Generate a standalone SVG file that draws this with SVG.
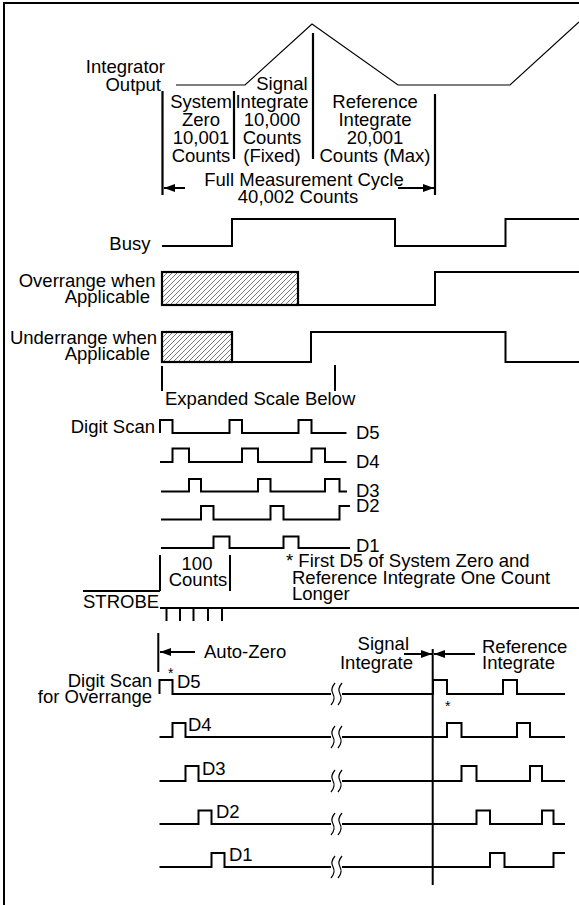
<svg xmlns="http://www.w3.org/2000/svg" width="579" height="905" viewBox="0 0 579 905">
<style>
.t{font-family:"Liberation Sans",Arial,Helvetica,sans-serif;font-size:18.5px;fill:#000}
.m{text-anchor:middle}
.e{text-anchor:end}
.w{fill:none;stroke:#000;stroke-width:2}
.thin{fill:none;stroke:#000;stroke-width:1.2}
.bar{fill:none;stroke:#000;stroke-width:2.2}
.ast{font-family:"Liberation Sans",Arial,sans-serif;font-size:14px}
</style>
<defs>
<marker id="ah" markerUnits="userSpaceOnUse" markerWidth="11" markerHeight="8" refX="11" refY="4" orient="auto"><path d="M0,0 L11,4 L0,8 z" fill="#000"/></marker>
<pattern id="hatch" patternUnits="userSpaceOnUse" width="5" height="5"><path d="M-1,1 L1,-1 M0,5 L5,0 M4,6 L6,4" stroke="#555" stroke-width="0.8"/></pattern>
<g id="brk" fill="none" stroke="#000" stroke-width="1.2"><path d="M3,-11 Q-2,-5 1,0 Q4,5 -1,11"/><path d="M10,-11 Q5,-5 8,0 Q11,5 6,11"/></g>
</defs>
<rect width="579" height="905" fill="#fff"/>
<g id="frame"><path class="w" d="M4,905 V3 H579" stroke-width="2.5"/></g>

<g id="integrator">
<polyline class="thin" points="176,85 245,85 312,24 398,85 510,85 579,22"/>
<text class="t e" x="165" y="73">Integrator</text>
<text class="t e" x="161" y="91">Output</text>
</g>

<g id="phases">
<path class="bar" d="M162.5,91 V195 M234,91 V159 M313,33 V159 M435,94 V195"/>
<text class="t m" x="282" y="90">Signal</text>
<text class="t m" x="201" y="108">System</text>
<text class="t m" x="201" y="126">Zero</text>
<text class="t m" x="201" y="144">10,001</text>
<text class="t m" x="201" y="162">Counts</text>
<text class="t m" x="272" y="108">Integrate</text>
<text class="t m" x="272" y="126">10,000</text>
<text class="t m" x="272" y="144">Counts</text>
<text class="t m" x="272" y="162">(Fixed)</text>
<text class="t m" x="375" y="108">Reference</text>
<text class="t m" x="375" y="126">Integrate</text>
<text class="t m" x="375" y="144">20,001</text>
<text class="t m" x="375" y="162">Counts (Max)</text>
<text class="t m" x="304" y="186">Full Measurement Cycle</text>
<text class="t m" x="298" y="203">40,002 Counts</text>
</g>

<g id="busy">
<text class="t e" x="150.5" y="250">Busy</text>
<path class="w" d="M162,246 H232 V219 H395 V246 H505.5 V219 H579"/>
</g>

<g id="overrange">
<text class="t e" x="155.5" y="287">Overrange when</text>
<text class="t e" x="150" y="303">Applicable</text>
<rect x="162" y="272" width="136" height="33" fill="url(#hatch)" stroke="#000" stroke-width="2.2"/>
<path class="w" d="M298,305 H435 V272 H579"/>
</g>

<g id="underrange">
<text class="t e" x="157" y="344">Underrange when</text>
<text class="t e" x="150" y="360">Applicable</text>
<rect x="162" y="332" width="70" height="30" fill="url(#hatch)" stroke="#000" stroke-width="2.2"/>
<path class="w" d="M232,362 H311 V332 H505.5 V362 H579"/>
</g>

<g id="expanded-scale">
<path class="w" stroke-width="1.6" d="M162,366 V391 M335,365 V391"/>
<text class="t" x="165" y="405">Expanded Scale Below</text>
</g>

<g id="digit-scan">
<text class="t e" x="155" y="433">Digit Scan</text>
<path class="w" d="M160,433 V420 H172.5 V433 H229.5 V420 H242 V433 H298.5 V420 H311.5 V433 H346.5"/>
<path class="w" d="M160,462 H172.5 V448.5 H189 V462 H242 V448.5 H258 V462 H311.5 V448.5 H325 V462 H346.5"/>
<path class="w" d="M161,491.5 H189 V479 H201 V491.5 H258 V479 H270.5 V491.5 H325 V479 H339.5 V491.5 H347"/>
<path class="w" d="M161,519.5 H201 V506 H213.5 V519.5 H270.5 V506 H283.5 V519.5 H339.5 V506 H350"/>
<path class="w" d="M161,548 H213.5 V536.5 H229.5 V548 H283.5 V536.5 H298.5 V548 H350"/>
<text class="t" x="356" y="439">D5</text>
<text class="t" x="356" y="468">D4</text>
<text class="t" x="356" y="497">D3</text>
<text class="t" x="356" y="512">D2</text>
<text class="t" x="356" y="552">D1</text>
</g>

<g id="counts-100">
<path class="w" d="M160,555 V591 M230,555 V591"/>
<text class="t m" x="197" y="570">100</text>
<text class="t m" x="198" y="586">Counts</text>
</g>

<g id="note">
<text class="t" x="286" y="567">* First D5 of System Zero and</text>
<text class="t" x="292" y="584">Reference Integrate One Count</text>
<text class="t" x="292" y="600">Longer</text>
</g>

<g id="strobe">
<path class="w" d="M83,591 H160"/>
<text class="t" x="83" y="608">STROBE</text>
<path class="w" d="M160,608 H579 M166.5,608 V621 M180,608 V621 M193.5,608 V621 M208,608 V621 M222,608 V621"/>
</g>

<g id="phase-labels">
<path class="w" d="M158.3,633 V672 M432.7,649 V885"/>
<text class="t" x="204" y="658">Auto-Zero</text>
<text class="t e" x="409" y="650">Signal</text>
<text class="t e" x="413" y="669">Integrate</text>
<text class="t" x="482" y="653">Reference</text>
<text class="t" x="482" y="669">Integrate</text>
</g>

<g id="overrange-scan">
<text class="t e" x="152" y="687">Digit Scan</text>
<text class="t e" x="152" y="703">for Overrange</text>
<text class="ast" x="168" y="678">*</text>
<text class="ast" x="445" y="711">*</text>
<path class="w" d="M159.5,694 V680 H172.5 V694 H331 M342,694 H433 V680 H447 V694 H503 V680 H517 V694 H565"/>
<path class="w" d="M159.5,737 H172.5 V723 H185.5 V737 H331 M342,737 H447 V723 H461.5 V737 H517 V723 H530 V737 H565"/>
<path class="w" d="M159.5,781 H185.5 V766 H198.5 V781 H331 M342,781 H461.5 V766 H476.5 V781 H530 V766 H542 V781 H565"/>
<path class="w" d="M159.5,824 H198.5 V810.5 H211.5 V824 H331 M342,824 H476.5 V810.5 H490 V824 H542 V810.5 H553.5 V824 H565"/>
<path class="w" d="M159.5,867 H211.5 V853 H224.5 V867 H331 M342,867 H490 V853 H504.5 V867 H553.5 V853 H565"/>
<use href="#brk" x="332" y="694"/>
<use href="#brk" x="332" y="737"/>
<use href="#brk" x="332" y="781"/>
<use href="#brk" x="332" y="824"/>
<use href="#brk" x="332" y="867"/>
<text class="t" x="177" y="688">D5</text>
<text class="t" x="188" y="731">D4</text>
<text class="t" x="202" y="775">D3</text>
<text class="t" x="216" y="818">D2</text>
<text class="t" x="229" y="861">D1</text>
</g>

<g id="connectors">
<line class="w" x1="185" y1="188" x2="164" y2="188" marker-end="url(#ah)"/>
<line class="w" x1="398" y1="188" x2="434" y2="188" marker-end="url(#ah)"/>
<line class="w" x1="195" y1="652" x2="160" y2="652" marker-end="url(#ah)"/>
<line class="w" x1="404" y1="654" x2="432" y2="654" marker-end="url(#ah)"/>
<line class="w" x1="475" y1="654" x2="434" y2="654" marker-end="url(#ah)"/>
</g>
</svg>
